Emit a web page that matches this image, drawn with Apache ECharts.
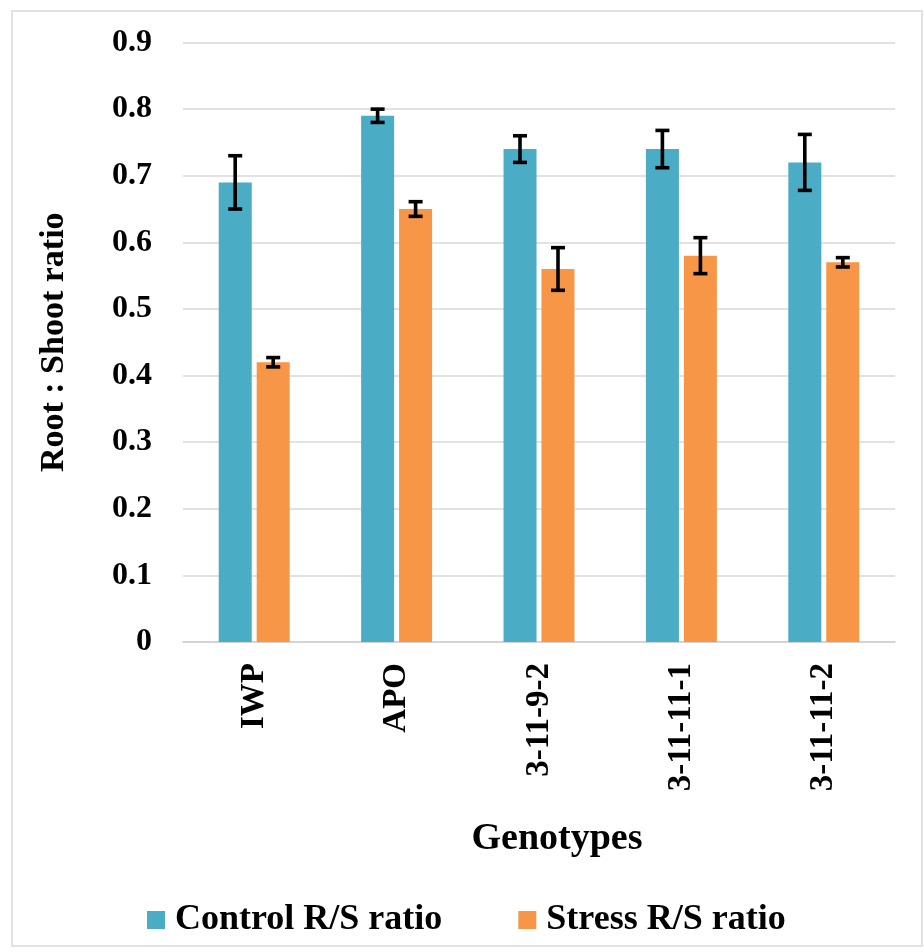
<!DOCTYPE html>
<html>
<head>
<meta charset="utf-8">
<script src="https://cdn.jsdelivr.net/npm/echarts@6/dist/echarts.min.js"></script>
<style>
html,body{margin:0;padding:0;background:#fff;}
#main{width:924px;height:952px;}
</style>
</head>
<body>
<div id="main"></div>
<script>
/*数据*/
var genotypes = ["IWP", "APO", "3-11-9-2", "3-11-11-1", "3-11-11-2"];
var controlRS = [0.69, 0.79, 0.74, 0.74, 0.72];
var controlErr = [0.04, 0.01, 0.02, 0.028, 0.042];
var stressRS = [0.42, 0.65, 0.56, 0.58, 0.57];
var stressErr = [0.007, 0.011, 0.032, 0.027, 0.007];
var yTicks = [0, 0.1, 0.2, 0.3, 0.4, 0.5, 0.6, 0.7, 0.8, 0.9];

var font = "Liberation Serif";
var barW = 33;
var off = 19; //柱子中心偏移

//误差线
function errSeries(vals, errs, dx) {
    var data = [];
    for (var i = 0; i < vals.length; i++) data.push([i, vals[i], errs[i]]);
    return {
        type: "custom",
        data: data,
        z: 10,
        silent: true,
        renderItem: function(params, api) {
            var v = api.value(1), e = api.value(2);
            var hi = api.coord([api.value(0), v + e]);
            var lo = api.coord([api.value(0), v - e]);
            var x = hi[0] + dx, w = 7;
            var st = {stroke: "#000", lineWidth: 3.6};
            return {
                type: "group",
                children: [
                    {type: "line", shape: {x1: x, y1: hi[1], x2: x, y2: lo[1]}, style: st},
                    {type: "line", shape: {x1: x - w, y1: hi[1], x2: x + w, y2: hi[1]}, style: st},
                    {type: "line", shape: {x1: x - w, y1: lo[1], x2: x + w, y2: lo[1]}, style: st}
                ]
            };
        }
    };
}

var myChart = echarts.init(document.getElementById("main"));
var option = {
    backgroundColor: "#fff",
    animation: false,
    graphic: [{
        type: "rect",
        shape: {x: 12, y: 11, width: 910, height: 935},
        style: {fill: "none", stroke: "#d9d9d9", lineWidth: 1.5},
        silent: true
    }],
    grid: {left: 183, right: 29, top: 42.5, bottom: 310, containLabel: false},
    legend: {
        left: 142,
        top: 897,
        itemWidth: 18,
        itemHeight: 18,
        itemGap: 76,
        icon: "rect",
        textStyle: {fontFamily: font, fontWeight: "bold", fontSize: 36, color: "#000", padding: [0, 0, 0, 5]},
        data: ["Control R/S ratio", "Stress R/S ratio"]
    },
    xAxis: {
        type: "category",
        data: genotypes,
        name: "Genotypes",
        nameLocation: "middle",
        nameGap: 178,
        nameTextStyle: {fontFamily: font, fontWeight: "bold", fontSize: 38, color: "#000", padding: [0, 0, 0, 36]},
        axisLine: {lineStyle: {color: "#d0d0d0", width: 1.5}},
        axisTick: {show: false},
        axisLabel: {rotate: 90, margin: 21, fontFamily: font, fontWeight: "bold", fontSize: 33, color: "#000"}
    },
    yAxis: {
        type: "value",
        min: 0,
        max: 0.9,
        interval: 0.1,
        name: "Root : Shoot ratio",
        nameLocation: "middle",
        nameGap: 112,
        nameTextStyle: {fontFamily: font, fontWeight: "bold", fontSize: 34, color: "#000"},
        axisLine: {show: false},
        axisTick: {show: false},
        splitLine: {lineStyle: {color: "#d9d9d9", width: 1.5}},
        axisLabel: {
            margin: 31,
            fontFamily: font,
            fontWeight: "bold",
            fontSize: 32,
            color: "#000",
            formatter: function(v) {
                for (var i = 0; i < yTicks.length; i++) {
                    if (Math.abs(yTicks[i] - v) < 1e-6) return String(yTicks[i]);
                }
                return "";
            }
        }
    },
    series: [
        {
            name: "Control R/S ratio",
            type: "bar",
            data: controlRS,
            barWidth: barW,
            barGap: "15%",
            itemStyle: {color: "#4bacc6"}
        },
        {
            name: "Stress R/S ratio",
            type: "bar",
            data: stressRS,
            barWidth: barW,
            itemStyle: {color: "#f79646"}
        },
        errSeries(controlRS, controlErr, -off),
        errSeries(stressRS, stressErr, off)
    ]
};
myChart.setOption(option);
</script>
</body>
</html>
